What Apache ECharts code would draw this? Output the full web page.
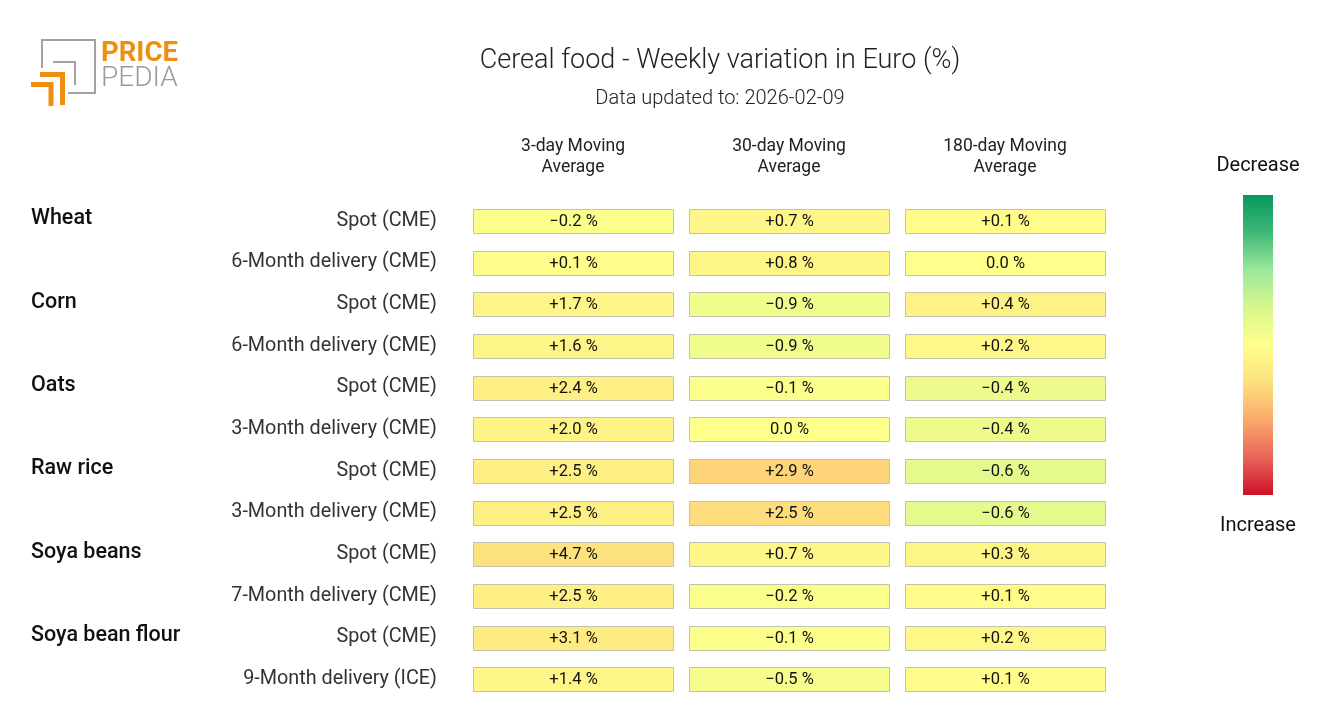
<!DOCTYPE html>
<html>
<head>
<meta charset="utf-8">
<script src="https://cdn.jsdelivr.net/npm/echarts@6/dist/echarts.min.js"></script>
<style>
html,body{margin:0;padding:0;background:#fff;}
#main{width:1320px;height:720px;}
</style>
</head>
<body>
<div id="main"></div>
<script>
// ---- data ----
const columns = ['3-day Moving\nAverage', '30-day Moving\nAverage', '180-day Moving\nAverage'];
const rowLabels = ['Spot (CME)', '6-Month delivery (CME)', 'Spot (CME)', '6-Month delivery (CME)',
  'Spot (CME)', '3-Month delivery (CME)', 'Spot (CME)', '3-Month delivery (CME)',
  'Spot (CME)', '7-Month delivery (CME)', 'Spot (CME)', '9-Month delivery (ICE)'];
const groupLabels = ['Wheat', '', 'Corn', '', 'Oats', '', 'Raw rice', '', 'Soya beans', '', 'Soya bean flour', ''];
const avg3 = [-0.2, 0.1, 1.7, 1.6, 2.4, 2.0, 2.5, 2.5, 4.7, 2.5, 3.1, 1.4];
const avg30 = [0.7, 0.8, -0.9, -0.9, -0.1, 0.0, 2.9, 2.5, 0.7, -0.2, -0.1, -0.5];
const avg180 = [0.1, 0.0, 0.4, 0.2, -0.4, -0.4, -0.6, -0.6, 0.3, 0.1, 0.2, 0.1];
const colorScale = [20, 9.5, 3.6];   // per-column colour range (+/-)

const ramp = ['#07975f', '#3fb877', '#9ae89a', '#d8f78c', '#ffff8c', '#fde07e', '#fca86a', '#e8655a', '#d0102a'];
const allCols = [avg3, avg30, avg180];

function fmt(v) {
  if (v > 0) return '+' + v.toFixed(1) + ' %';
  if (v < 0) return '\u2212' + Math.abs(v).toFixed(1) + ' %';
  return '0.0 %';
}

function renderCell(params, api) {
  const c = api.value(0), r = api.value(1), v = api.value(2);
  const p = api.coord([c, r]);
  const w = 200, h = 24;
  const x = Math.round(p[0] - w / 2) + 0.5;
  const y = Math.round(p[1] - h / 2) + 0.5;
  return {
    type: 'rect',
    shape: { x: x, y: y, width: w, height: h },
    style: { fill: api.visual('color'), stroke: '#c2c2b0', lineWidth: 1 },
    textContent: {
      style: { text: fmt(v), fontSize: 16.5, fill: '#111', fontFamily: 'Roboto' }
    },
    textConfig: { position: 'inside' }
  };
}

const series = allCols.map((arr, c) => ({
  type: 'custom',
  renderItem: renderCell,
  encode: { x: 0, y: 1 },
  data: arr.map((v, r) => [c, r, v]),
  silent: true
}));

const visualMaps = colorScale.map((s, c) => ({
  type: 'continuous', show: false, seriesIndex: c, dimension: 2,
  min: -s, max: s, inRange: { color: ramp }
}));

const chart = echarts.init(document.getElementById('main'));
const orange = '#ef8f12';
chart.setOption({
  backgroundColor: '#fff',
  animation: false,
  textStyle: { fontFamily: 'Roboto' },
  title: [
    { text: 'Cereal food - Weekly variation in Euro (%)', left: 720, top: 48, textAlign: 'center', padding: 0,
      textStyle: { fontSize: 27, fontWeight: 300, color: '#222', fontFamily: 'Roboto' } },
    { text: 'Data updated to: 2026-02-09', left: 720, top: 89, textAlign: 'center', padding: 0,
      textStyle: { fontSize: 20, fontWeight: 300, color: '#222', fontFamily: 'Roboto' } }
  ],
  grid: { left: 465, width: 648, top: 200, height: 500 },
  xAxis: {
    type: 'category', position: 'top', data: columns,
    axisLine: { show: false }, axisTick: { show: false }, splitLine: { show: false },
    axisLabel: { fontSize: 17.5, lineHeight: 21, color: '#222', margin: 22, fontFamily: 'Roboto' }
  },
  yAxis: [
    {
      type: 'category', inverse: true, data: rowLabels,
      axisLine: { show: false }, axisTick: { show: false }, splitLine: { show: false },
      axisLabel: { fontSize: 19.8, color: '#333', margin: 28, padding: [3, 0, 0, 0], fontFamily: 'Roboto' }
    },
    {
      type: 'category', inverse: true, position: 'left', offset: 0, data: groupLabels,
      axisLabel: { margin: 434, align: 'left',
        formatter: v => v ? '{g|' + v + '}' : '',
        rich: { g: { fontSize: 21.5, color: '#111', fontWeight: 500, padding: [0, 0, 4, 0], fontFamily: 'Roboto' } } },
      axisLine: { show: false }, axisTick: { show: false }, splitLine: { show: false }
    }
  ],
  visualMap: visualMaps,
  series: series,
  graphic: [
    // colour bar
    { type: 'rect', shape: { x: 1243, y: 195, width: 30, height: 300 },
      style: { fill: new echarts.graphic.LinearGradient(0, 0, 0, 1, ramp.map((c, i) => ({ offset: i / (ramp.length - 1), color: c }))) } },
    { type: 'text', x: 1258, y: 166, style: { text: 'Decrease', fontSize: 20, fill: '#111', align: 'center', verticalAlign: 'middle', fontFamily: 'Roboto' } },
    { type: 'text', x: 1258, y: 526, style: { text: 'Increase', fontSize: 20, fill: '#111', align: 'center', verticalAlign: 'middle', fontFamily: 'Roboto' } },
    // logo
    { type: 'polyline', shape: { points: [[42, 68], [42, 40], [95, 40], [95, 93], [68, 93]] }, style: { stroke: '#a3a3a3', lineWidth: 2, fill: null } },
    { type: 'polyline', shape: { points: [[53, 62], [75, 62], [75, 85]] }, style: { stroke: '#a3a3a3', lineWidth: 2, fill: null } },
    { type: 'polyline', shape: { points: [[40, 74.5], [62.5, 74.5], [62.5, 105]] }, style: { stroke: orange, lineWidth: 5, fill: null } },
    { type: 'polyline', shape: { points: [[31, 84.5], [51, 84.5], [51, 106]] }, style: { stroke: orange, lineWidth: 5, fill: null } },
    { type: 'text', x: 101, y: 54, style: { text: 'PRICE', fontSize: 27.5, fontWeight: 'bold', fill: orange, verticalAlign: 'middle', fontFamily: 'Roboto' } },
    { type: 'text', x: 101, y: 79, style: { text: 'PEDIA', fontSize: 28, fontWeight: 300, fill: '#9a9a9a', verticalAlign: 'middle', fontFamily: 'Roboto' } }
  ]
});
</script>
</body>
</html>
